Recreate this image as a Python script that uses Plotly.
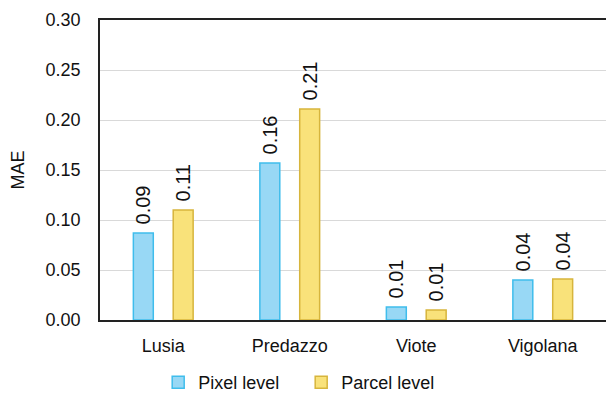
import plotly.graph_objects as go

# Mean absolute error per study area
sites = ["Lusia", "Predazzo", "Viote", "Vigolana"]
pixel_mae = [0.087, 0.157, 0.013, 0.040]
parcel_mae = [0.110, 0.211, 0.010, 0.041]
y_ticks = [0.00, 0.05, 0.10, 0.15, 0.20, 0.25, 0.30]
y_tick_text = ["0.00", "0.05", "0.10", "0.15", "0.20", "0.25", "0.30"]

FONT = "Liberation Sans, Arial, sans-serif"
LABEL_FONT = dict(size=20, color="#111111", family=FONT)


def bar(name, values, fill, edge):
    return go.Bar(
        name=name, x=sites, y=values,
        texttemplate="\u00a0%{y:.2f}", textposition="outside", textangle=-90,
        constraintext="none", textfont=LABEL_FONT,
        marker=dict(color=fill, line=dict(color=edge, width=1.5)),
        cliponaxis=False,
    )


fig = go.Figure()
fig.add_trace(bar("Pixel level", pixel_mae, "#98d8f5", "#3fbdec"))
fig.add_trace(bar("Parcel level", parcel_mae, "#f9e27a", "#d7b53c"))

fig.update_layout(
    width=606, height=401,
    margin=dict(l=100, r=0, t=20, b=81),
    paper_bgcolor="white", plot_bgcolor="white",
    barmode="group", bargap=0.37, bargroupgap=0.5,
    font=dict(family=FONT, size=18, color="#111111"),
    showlegend=True,
    legend=dict(orientation="h", x=0.115, xanchor="left", y=-0.272, yanchor="bottom",
                font=dict(size=18), traceorder="normal", itemwidth=30,
                entrywidth=98, entrywidthmode="pixels"),
)
fig.update_yaxes(
    range=[0, 0.30], tickvals=y_ticks, ticktext=y_tick_text,
    showgrid=True, gridcolor="#d9d9d9", gridwidth=1,
    showline=True, linecolor="#222222", linewidth=1.5,
    ticks="", ticklabelstandoff=14, zeroline=False,
    title=dict(text="MAE", standoff=16, font=dict(size=18)),
)
fig.update_xaxes(
    showline=True, linecolor="#222222", linewidth=1.5, mirror=True,
    ticks="", ticklabelstandoff=9, showgrid=False,
)

fig.write_html("out.html")
